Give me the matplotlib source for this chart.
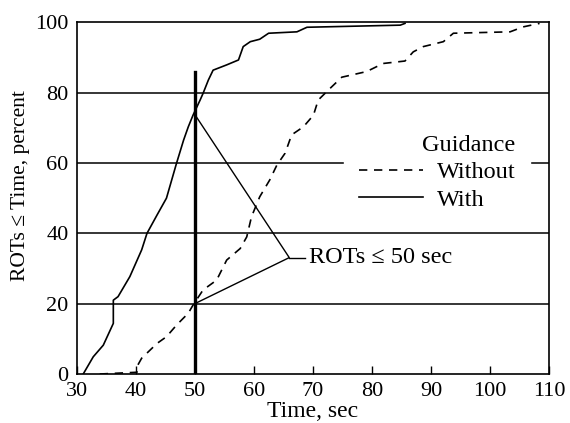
import matplotlib
matplotlib.use("Agg")
import matplotlib.pyplot as plt

plt.rcParams['font.family'] = ['Liberation Serif', 'DejaVu Serif']

# Cumulative ROT distributions (time in sec, percent)
with_t = [31.1, 32.8, 34.5, 36.2, 36.2, 37.0, 39.0, 41.0, 41.9, 43.6, 45.2, 46.9,
          48.1, 48.9, 49.7, 50.9, 51.4, 52.3, 53.1, 55.4, 57.4, 58.2, 59.4, 61.0,
          62.5, 67.3, 69.0, 84.8, 85.6]
with_p = [0.0, 4.9, 8.2, 14.4, 21.0, 22.0, 27.7, 35.3, 40.0, 45.2, 50.0, 59.9,
          66.5, 70.3, 73.6, 77.9, 79.8, 83.6, 86.4, 87.9, 89.3, 93.1, 94.5, 95.2,
          96.9, 97.3, 98.6, 99.2, 99.7]

without_t = [33.9, 40.2, 40.2, 41.0, 43.6, 45.2, 46.9, 48.9, 49.7, 51.4, 53.7, 55.4,
             57.7, 58.8, 59.6, 61.0, 62.7, 63.9, 65.3, 66.4, 68.4, 70.1, 70.9, 72.9,
             74.9, 79.1, 81.9, 85.6, 87.0, 88.7, 92.1, 93.8, 103.4, 105.6, 108.4]
without_p = [0.0, 0.5, 2.1, 4.5, 8.7, 10.6, 13.9, 17.3, 19.6, 23.9, 26.7, 32.4,
             35.7, 39.0, 44.7, 50.4, 55.2, 59.4, 62.8, 68.0, 70.3, 73.6, 77.9, 81.2,
             84.4, 86.0, 88.3, 89.0, 91.6, 93.1, 94.5, 96.9, 97.3, 98.7, 99.7]

x_ticks = [30, 40, 50, 60, 70, 80, 90, 100, 110]
y_ticks = [0, 20, 40, 60, 80, 100]
grid_levels = [20, 40, 60, 80]

# Annotation: marker line at 50 sec and the two readings
cut_time = 50
cut_top = 86
read_with = 73.8
read_without = 20
apex = (66.0, 33.1)
label_end = 68.7

fig = plt.figure(figsize=(5.7, 4.23), dpi=100)
ax = fig.add_axes([0.1346, 0.1158, 0.8286, 0.8314])

for lev in grid_levels:
    ax.axhline(lev, color='black', linewidth=1.1, zorder=1)

ax.plot(without_t, without_p, color='black', linewidth=1.2,
        linestyle=(0, (5, 4)), label='Without', zorder=3)
ax.plot(with_t, with_p, color='black', linewidth=1.2, label='With', zorder=3)

ax.plot([cut_time, cut_time], [0, cut_top], color='black', linewidth=2.4, zorder=4)
ax.plot([cut_time, apex[0], cut_time], [read_with, apex[1], read_without],
        color='black', linewidth=1.0, zorder=4)
ax.plot([apex[0], label_end], [apex[1], apex[1]], color='black', linewidth=1.0, zorder=4)
ax.text(label_end + 0.7, apex[1], 'ROTs \u2264 50 sec', fontsize=17.5,
        ha='left', va='center')

ax.set_xlim(30, 110)
ax.set_ylim(0, 100)
ax.set_xticks(x_ticks)
ax.set_yticks(y_ticks)
ax.tick_params(axis='x', direction='in', length=6, width=1.0, labelsize=16, pad=6)
ax.tick_params(axis='y', length=0, labelsize=16, pad=6)
for sp in ax.spines.values():
    sp.set_linewidth(1.2)

ax.set_xlabel('Time, sec', fontsize=17, labelpad=0)
ax.set_ylabel('ROTs \u2264 Time, percent', fontsize=15.5)
ax.yaxis.set_label_coords(-0.099, 0.535)

leg = ax.legend(title='Guidance', loc='center', bbox_to_anchor=(0.763, 0.572),
                fontsize=17.5, title_fontsize=17.5, frameon=True, fancybox=False,
                edgecolor='white', framealpha=1.0, handlelength=2.65,
                borderpad=0.6, labelspacing=0.22, handletextpad=0.55)
leg._legend_box.align = 'right'
leg.set_zorder(5)

fig.savefig('out.png', dpi=100)
